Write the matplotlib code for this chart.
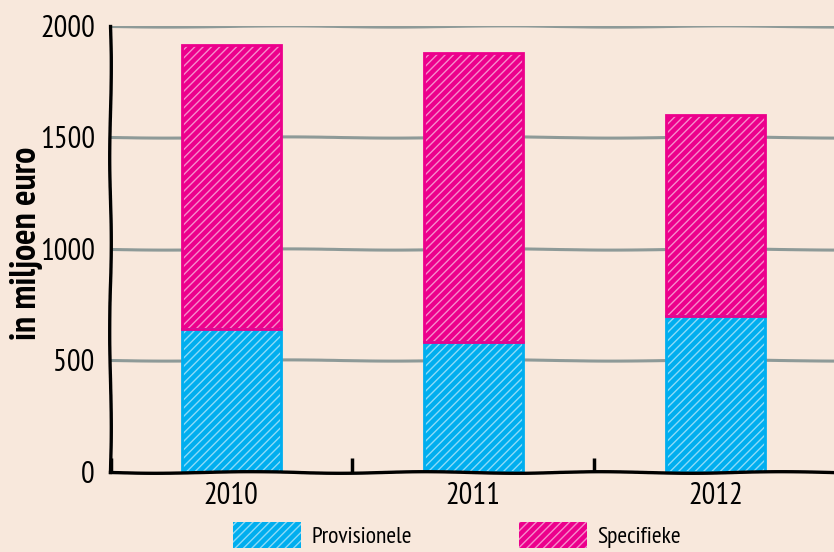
import numpy as np
import matplotlib
matplotlib.use("Agg")
import matplotlib.pyplot as plt
from matplotlib.patches import Patch

# data
jaren = ["2010", "2011", "2012"]
provisionele = [640, 585, 700]
specifieke = [1275, 1295, 900]
yticks = [0, 500, 1000, 1500, 2000]

blauw = "#00AEEF"
roze = "#EC008C"
achtergrond = "#F8E8DC"

plt.rcParams['font.family'] = ['PT Sans Narrow', 'DejaVu Sans']
plt.rcParams['hatch.linewidth'] = 1.0

fig = plt.figure(figsize=(8.34, 5.52), dpi=100, facecolor=achtergrond)
ax = fig.add_axes([0.132, 0.145, 0.868, 0.808], facecolor=achtergrond)

x = np.arange(len(jaren))
w = 0.41
hatchkleur = (1, 1, 1, 0.55)

# gridlines (sketchy)
for y in yticks[1:]:
    ln, = ax.plot([-0.5, 2.49], [y, y], color="#8E9A98", lw=2.2, zorder=1)
    ln.set_sketch_params(0.6, 250, 2)

# bars: coloured fill with white hatch, then a coloured outline
for waarden, onder, kleur in [(provisionele, None, blauw), (specifieke, provisionele, roze)]:
    ax.bar(x, waarden, w, bottom=onder, color=kleur, edgecolor=hatchkleur,
           hatch="////", lw=0, zorder=2)
    ax.bar(x, waarden, w, bottom=onder, facecolor="none", edgecolor=kleur,
           lw=2, zorder=3)

ax.set_xlim(-0.5, 2.49)
ax.set_ylim(0, 2000)

# axes
for s in ["top", "right"]:
    ax.spines[s].set_visible(False)
for s in ["left", "bottom"]:
    ax.spines[s].set_linewidth(2.4)
    ax.spines[s].set_sketch_params(0.8, 200, 2)
    ax.spines[s].set_zorder(4)

ax.set_yticks(yticks)
ax.set_yticklabels([str(t) for t in yticks], fontsize=22)
ax.tick_params(axis="y", length=0, pad=11)
ax.set_xticks(x)
ax.set_xticklabels(jaren, fontsize=22)
ax.tick_params(axis="x", which="major", length=0, pad=7)
ax.set_xticks([-0.495, 0.5, 1.5], minor=True)
ax.tick_params(axis="x", which="minor", direction="in", length=10, width=2.5)

fig.text(27 / 834, 1 - 243 / 552, "in miljoen euro", rotation=90,
         ha="center", va="center", fontsize=26, fontweight="bold")

handles = [Patch(facecolor=blauw, edgecolor=hatchkleur, hatch="////", lw=0),
           Patch(facecolor=roze, edgecolor=hatchkleur, hatch="////", lw=0)]
fig.legend(handles, ["Provisionele", "Specifieke"], loc="center",
           bbox_to_anchor=(0.548, 1 - 535 / 552), ncol=2, frameon=False,
           fontsize=17, handlelength=2.88, handleheight=1.3, handletextpad=0.45,
           columnspacing=4.5)

fig.savefig("out.png", dpi=100, facecolor=achtergrond)
